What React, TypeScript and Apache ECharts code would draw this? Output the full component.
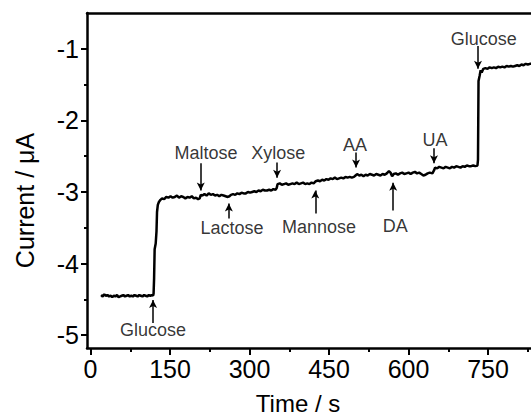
import React, { useEffect, useRef } from "react";
import * as echarts from "echarts";

// Time (s) and current (µA)
const time = [
  20, 23, 26, 29, 32, 35, 38, 41, 44, 47, 50, 53, 56, 59, 62, 65, 68, 71, 74, 77,
  80, 83, 86, 89, 92, 95, 98, 101, 104, 107, 110, 113, 116, 118,
  119, 120, 121, 123, 124.5, 125.5, 127, 129, 132,
  135, 139, 143, 147, 151, 155, 159, 163, 167, 171, 175, 179, 183, 187, 191, 195, 199, 203, 206,
  208, 211, 215, 219, 223, 227, 231, 235, 239, 243, 247, 251, 255, 259, 262, 265, 269, 273, 277,
  281, 285, 289, 293, 297, 301, 305, 309, 313, 317, 321, 325, 329, 333, 337, 341, 345, 349, 351,
  353, 357, 361, 365, 369, 373, 377, 381, 385, 389, 393, 397, 401, 405, 409, 413, 417, 421,
  425, 429, 433, 437, 441, 445, 449, 453, 457, 461, 465, 469, 473, 477, 481, 485, 489, 493, 497,
  500, 503, 507, 511, 515, 519, 523, 527, 531, 535, 539, 543, 547, 551, 555, 559,
  563, 566, 569, 572, 576, 580, 584, 588, 592, 596, 600, 604, 608, 612, 616, 620, 624, 628, 632,
  636, 640, 645, 648, 650, 654, 658, 662, 666, 670, 674, 678, 682, 686, 690, 694, 698, 702, 706,
  710, 714, 718, 722, 726, 730, 731, 732, 734, 736, 738, 741, 745, 749, 753, 757, 761, 765, 769,
  773, 777, 781, 785, 789, 793, 797, 801, 805, 809, 813, 817, 821, 825, 829, 833,
];
const current = [
  -4.44, -4.46, -4.43, -4.45, -4.44, -4.46, -4.45, -4.47, -4.45, -4.46, -4.44, -4.47, -4.46, -4.45, -4.44, -4.46, -4.45, -4.44, -4.46, -4.45,
  -4.46, -4.44, -4.45, -4.46, -4.44, -4.45, -4.46, -4.44, -4.45, -4.46, -4.44, -4.45, -4.44, -4.45,
  -4.42, -4.2, -3.8, -3.72, -3.55, -3.28, -3.18, -3.14, -3.11,
  -3.09, -3.1, -3.07, -3.08, -3.06, -3.08, -3.07, -3.05, -3.08, -3.06, -3.07, -3.09, -3.07, -3.08, -3.06, -3.09, -3.08, -3.1, -3.09,
  -3.04, -3.05, -3.03, -3.05, -3.02, -3.04, -3.03, -3.05, -3.04, -3.06, -3.04, -3.05, -3.06, -3.07, -3.06, -3.04, -3.03, -3.04, -3.02,
  -3.03, -3.01, -3.02, -3.02, -3.0, -3.01, -3.0, -2.99, -3.0, -2.98, -2.99, -2.97, -2.98, -2.98, -2.97, -2.98, -2.96, -2.97, -2.95,
  -2.89, -2.88, -2.9, -2.89, -2.88, -2.9, -2.89, -2.88, -2.89, -2.87, -2.89, -2.88, -2.87, -2.89, -2.88, -2.89, -2.87, -2.88,
  -2.85, -2.84, -2.85, -2.83, -2.84, -2.82, -2.83, -2.81, -2.82, -2.8, -2.82, -2.81, -2.8, -2.81, -2.79, -2.8, -2.79, -2.8, -2.79,
  -2.77, -2.75, -2.77, -2.76, -2.78, -2.76, -2.77, -2.75, -2.76, -2.77, -2.75, -2.76, -2.77, -2.75, -2.76, -2.74,
  -2.71, -2.73, -2.78, -2.75, -2.74, -2.76, -2.74, -2.73, -2.75, -2.74, -2.73, -2.75, -2.73, -2.72, -2.74, -2.73, -2.75, -2.77, -2.76,
  -2.74, -2.73, -2.74, -2.7, -2.66, -2.67, -2.65, -2.66, -2.67, -2.65, -2.66, -2.67, -2.65, -2.66, -2.64, -2.65, -2.66, -2.64, -2.65,
  -2.63, -2.64, -2.64, -2.63, -2.64, -2.63, -2.55, -1.45, -1.38, -1.3, -1.33, -1.28, -1.27, -1.28, -1.26, -1.27, -1.26, -1.27, -1.25,
  -1.26, -1.25, -1.26, -1.24, -1.25, -1.24, -1.25, -1.24, -1.23, -1.24, -1.22, -1.23, -1.21, -1.22, -1.21, -1.21,
];

// Injection annotations
const annoNames = ["Glucose", "Maltose", "Lactose", "Xylose", "Mannose", "AA", "DA", "UA", "Glucose"];
const annoLabelTime = [118, 218, 267, 354, 431, 499, 575, 650, 742];
const annoLabelCurrent = [-4.93, -2.45, -3.51, -2.45, -3.49, -2.35, -3.47, -2.28, -0.86];
const arrowTime = [118, 208, 261, 352, 424, 501, 571, 648, 731];
const arrowFrom = [-4.83, -2.6, -3.37, -2.59, -3.3, -2.45, -3.26, -2.39, -0.96];
const arrowTo = [-4.51, -2.98, -3.16, -2.8, -2.98, -2.66, -2.87, -2.6, -1.28];

// Tick values
const xMajorTicks = [0, 150, 300, 450, 600, 750];
const xMinorTicks = [75, 225, 375, 525, 675, 825];
const yMajorTicks = [-5, -4, -3, -2, -1];
const yMinorTicks = [-4.5, -3.5, -2.5, -1.5];

const FONT = "'Liberation Sans', Arial, Helvetica, sans-serif";

export default function App() {
  const ref = useRef<HTMLDivElement>(null);

  useEffect(() => {
    if (!ref.current) return;
    const chart = echarts.init(ref.current, undefined, { renderer: "svg" });
    const black = "#000";
    const xMin = -6.6;
    const xMax = 831;
    const yMin = -5.18;
    const yMax = -0.5;

    chart.setOption({
      animation: false,
      backgroundColor: "#fff",
      textStyle: { fontFamily: FONT },
      grid: { left: 87, right: 0, top: 13, bottom: 71, containLabel: false, outerBoundsMode: "none" },
      xAxis: [
        {
          type: "value",
          position: "bottom",
          min: xMin,
          max: xMax,
          axisLine: { show: true, onZero: false, lineStyle: { color: black, width: 2.5 } },
          axisTick: { show: true, inside: false, length: 7, customValues: xMajorTicks, lineStyle: { color: black, width: 2 } },
          axisLabel: { show: true, customValues: xMajorTicks, color: black, fontSize: 25, margin: 8, fontFamily: FONT },
          splitLine: { show: false },
          name: "Time / s",
          nameLocation: "middle",
          nameGap: 43,
          nameTextStyle: { color: black, fontSize: 24, fontFamily: FONT, padding: [0, 22, 0, 0] },
        },
        {
          type: "value",
          position: "bottom",
          min: xMin,
          max: xMax,
          axisLine: { show: false, onZero: false },
          axisTick: { show: true, inside: false, length: 4, customValues: xMinorTicks, lineStyle: { color: black, width: 2 } },
          axisLabel: { show: false },
          splitLine: { show: false },
        },
        {
          type: "value",
          position: "top",
          min: xMin,
          max: xMax,
          axisLine: { show: true, onZero: false, lineStyle: { color: black, width: 2.5 } },
          axisTick: { show: false },
          axisLabel: { show: false },
          splitLine: { show: false },
        },
      ],
      yAxis: [
        {
          type: "value",
          position: "left",
          min: yMin,
          max: yMax,
          axisLine: { show: true, onZero: false, lineStyle: { color: black, width: 2.5 } },
          axisTick: { show: true, inside: false, length: 6, customValues: yMajorTicks, lineStyle: { color: black, width: 2 } },
          axisLabel: { show: true, customValues: yMajorTicks, color: black, fontSize: 25, margin: 8, fontFamily: FONT },
          splitLine: { show: false },
          name: "Current / μA",
          nameLocation: "middle",
          nameGap: 50,
          nameRotate: 90,
          nameTextStyle: { color: black, fontSize: 25, fontFamily: FONT, padding: [0, 40, 0, 0] },
        },
        {
          type: "value",
          position: "left",
          min: yMin,
          max: yMax,
          axisLine: { show: false, onZero: false },
          axisTick: { show: true, inside: false, length: 3, customValues: yMinorTicks, lineStyle: { color: black, width: 2 } },
          axisLabel: { show: false },
          splitLine: { show: false },
        },
      ],
      series: [
        {
          type: "line",
          xAxisIndex: 0,
          yAxisIndex: 0,
          data: time.map((t, i) => [t, current[i]]),
          showSymbol: false,
          symbol: "none",
          lineStyle: { color: black, width: 2.5 },
          clip: true,
          silent: true,
        },
        {
          type: "scatter",
          xAxisIndex: 0,
          yAxisIndex: 0,
          symbolSize: 1,
          itemStyle: { color: "rgba(0,0,0,0)" },
          silent: true,
          data: annoNames.map((n, i) => ({ name: n, value: [annoLabelTime[i], annoLabelCurrent[i]] })),
          label: {
            show: true,
            position: "inside",
            formatter: (p: any) => p.name,
            color: black,
            fontSize: 18,
            fontFamily: FONT,
          },
          markLine: {
            silent: true,
            symbol: ["none", "arrow"],
            symbolSize: [6, 8],
            label: { show: false },
            lineStyle: { color: black, width: 1.5, type: "solid" },
            emphasis: { disabled: true },
            data: arrowTime.map((t, i) => [
              { coord: [t, arrowFrom[i]] },
              { coord: [t, arrowTo[i]] },
            ]),
          },
        },
      ],
    });

    return () => chart.dispose();
  }, []);

  return (
    <div
      ref={ref}
      style={{ position: "absolute", left: 0, top: 0, width: 531, height: 419 }}
    />
  );
}
